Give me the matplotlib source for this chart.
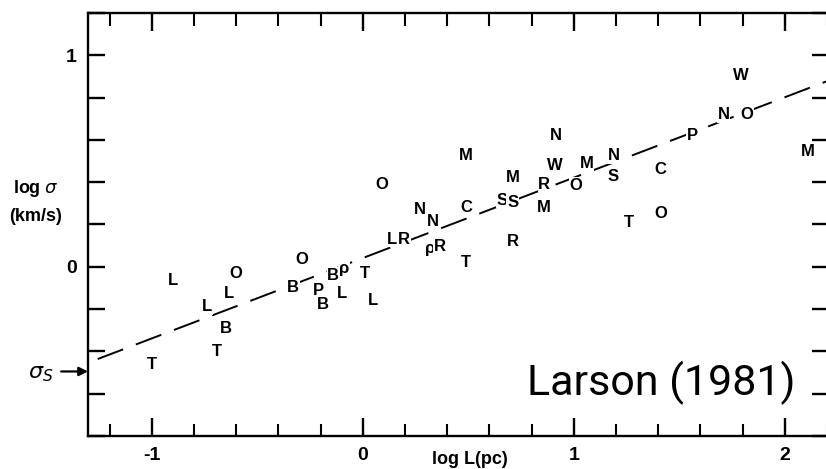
import numpy as np
import matplotlib
matplotlib.use("Agg")
import matplotlib.pyplot as plt
from matplotlib.ticker import MultipleLocator

# letter codes for each cloud / region
labels = ["L", "O", "L", "L", "B", "T", "T",
          "O", "B", "P", "B", "B", "\u03c1", "L", "T", "L",
          "L", "R", "O", "N", "N", "\u03c1", "R", "M", "C", "T",
          "S", "S", "M", "R", "N", "W", "R", "M", "M", "O",
          "N", "S", "T", "C", "O", "P", "N", "O", "W", "M"]
log_L = [-0.90, -0.60, -0.635, -0.74, -0.65, -0.69, -1.00,
         -0.29, -0.33, -0.21, -0.19, -0.14, -0.09, -0.10, 0.01, 0.05,
         0.14, 0.195, 0.09, 0.27, 0.33, 0.32, 0.365, 0.49, 0.49, 0.49,
         0.66, 0.71, 0.71, 0.71, 0.915, 0.91, 0.86, 0.86, 1.06, 1.01,
         1.19, 1.185, 1.26, 1.41, 1.41, 1.56, 1.71, 1.82, 1.79, 2.11]
log_sigma = [-0.066, -0.033, -0.127, -0.19, -0.29, -0.40, -0.46,
             0.033, -0.10, -0.11, -0.18, -0.04, -0.01, -0.127, -0.033, -0.16,
             0.13, 0.13, 0.39, 0.27, 0.216, 0.085, 0.094, 0.525, 0.28, 0.02,
             0.315, 0.305, 0.42, 0.12, 0.62, 0.48, 0.39, 0.28, 0.49, 0.385,
             0.525, 0.427, 0.207, 0.46, 0.25, 0.62, 0.72, 0.72, 0.905, 0.545]

# Larson's fit: sigma = 1.10 L^0.38
fit_coef = 1.10
fit_slope = 0.38
sigma_s = -0.495

fig = plt.figure(figsize=(8.26, 4.69), dpi=100)
ax = fig.add_axes([0.1065, 0.0704, 0.897, 0.902])
ax.set_xlim(-1.303, 2.209)
ax.set_ylim(-0.798, 1.188)

xx = np.array([-1.257, 2.25])
ax.plot(xx, np.log10(fit_coef) + fit_slope * xx, color="black", lw=1.4,
        dashes=(14, 7), zorder=1)

for lab, x, y in zip(labels, log_L, log_sigma):
    ax.text(x, y, lab, ha="center", va="center", fontsize=12,
            family="Liberation Sans", weight="bold", zorder=2,
            bbox=dict(facecolor="white", edgecolor="none", pad=0.5))

for sp in ax.spines.values():
    sp.set_linewidth(1.7)
ax.spines["right"].set_visible(False)

ax.set_xticks([-1, 0, 1, 2])
ax.set_xticklabels(["-1", "0", "1", "2"])
ax.xaxis.set_minor_locator(MultipleLocator(0.2))
yt = np.arange(-0.8, 1.21, 0.2)
ax.set_yticks(yt)
ax.set_yticklabels(["1" if abs(v - 1) < 1e-6 else ("0" if abs(v) < 1e-6 else "")
                    for v in yt])
ax.tick_params(axis="x", which="major", direction="in", length=13, width=1.7,
               top=True, labelsize=14, pad=8)
ax.tick_params(axis="x", which="minor", direction="in", length=9, width=1.5,
               top=True)
ax.tick_params(axis="y", which="major", direction="in", length=12, width=1.7,
               right=True, labelsize=14, pad=8)
for lab in ax.get_xticklabels() + ax.get_yticklabels():
    lab.set_family("Liberation Sans")
    lab.set_weight("bold")

ax.text(0.507, -0.87, "log L(pc)", ha="center", va="top", fontsize=13,
        family="Liberation Sans", weight="bold")
ax.text(-1.55, 0.37, r"log $\sigma$", ha="center", va="center", fontsize=13,
        family="Liberation Sans", weight="bold")
ax.text(-1.55, 0.24, "(km/s)", ha="center", va="center", fontsize=13,
        family="Liberation Sans", weight="bold")
ax.text(-1.525, sigma_s - 0.01, r"$\sigma_S$", ha="center", va="center",
        fontsize=16)
ax.annotate("", xy=(-1.303, sigma_s), xytext=(-1.43, sigma_s),
            annotation_clip=False,
            arrowprops=dict(arrowstyle="-|>", color="black", lw=1.6,
                            mutation_scale=13, shrinkA=0, shrinkB=0))

ax.text(2.05, -0.606, "Larson (1981)", ha="right", va="baseline", fontsize=31,
        family="Roboto", weight="normal")

fig.savefig("out.png", dpi=100)
